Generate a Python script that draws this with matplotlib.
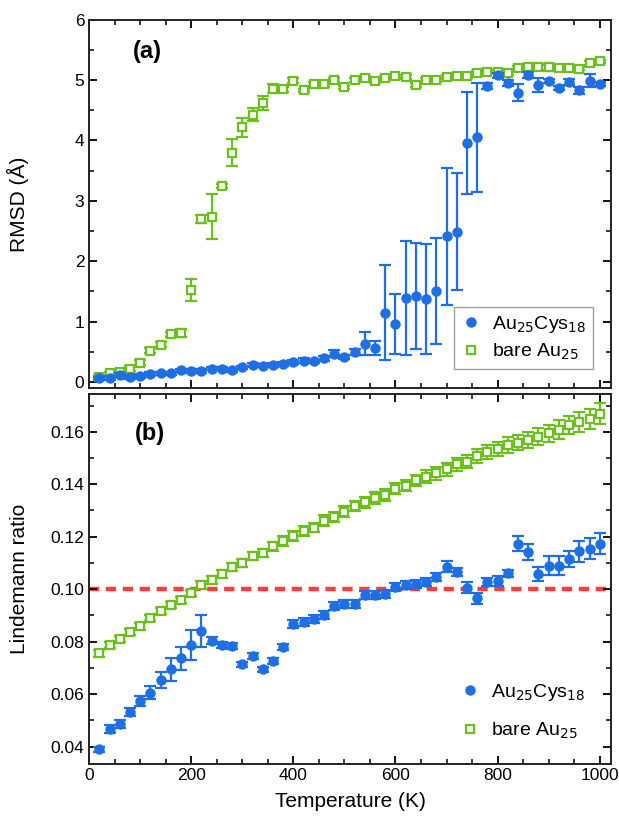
import numpy as np
import matplotlib
matplotlib.use("Agg")
import matplotlib.pyplot as plt
from matplotlib.ticker import MultipleLocator, FormatStrFormatter

plt.rcParams['font.family'] = ['Liberation Sans', 'DejaVu Sans']

#%% data
temperature = list(range(20, 1001, 20))

# RMSD, Au25Cys18
rmsd_cys = [0.06, 0.07, 0.12, 0.08, 0.10, 0.13, 0.14, 0.14, 0.19, 0.18,
            0.18, 0.22, 0.22, 0.19, 0.24, 0.28, 0.27, 0.28, 0.30, 0.33,
            0.35, 0.34, 0.39, 0.47, 0.41, 0.50, 0.63, 0.56, 1.15, 0.96,
            1.39, 1.42, 1.37, 1.51, 2.41, 2.49, 3.96, 4.05, 4.90, 5.08,
            4.95, 4.79, 5.09, 4.92, 4.99, 4.87, 4.97, 4.83, 4.99, 4.94]
rmsd_cys_err = [0.03, 0.03, 0.03, 0.03, 0.03, 0.03, 0.03, 0.03, 0.03, 0.03,
                0.03, 0.03, 0.03, 0.03, 0.03, 0.03, 0.03, 0.03, 0.03, 0.03,
                0.04, 0.03, 0.04, 0.06, 0.03, 0.05, 0.19, 0.11, 0.78, 0.50,
                0.94, 0.88, 0.91, 0.88, 1.14, 0.97, 0.85, 0.90, 0.05, 0.04,
                0.05, 0.14, 0.05, 0.11, 0.03, 0.04, 0.05, 0.06, 0.11, 0.03]

# RMSD, bare Au25
rmsd_bare = [0.08, 0.14, 0.17, 0.22, 0.32, 0.52, 0.62, 0.79, 0.81, 1.52,
             2.70, 2.74, 3.25, 3.80, 4.22, 4.43, 4.62, 4.86, 4.85, 4.99,
             4.83, 4.94, 4.94, 5.00, 4.88, 5.00, 5.04, 4.99, 5.03, 5.06,
             5.05, 4.92, 5.00, 5.00, 5.05, 5.07, 5.06, 5.12, 5.14, 5.14,
             5.12, 5.20, 5.21, 5.21, 5.21, 5.20, 5.20, 5.19, 5.28, 5.31]
rmsd_bare_err = [0.03, 0.03, 0.03, 0.04, 0.04, 0.04, 0.04, 0.04, 0.07, 0.18,
                 0.07, 0.38, 0.03, 0.22, 0.16, 0.10, 0.12, 0.07, 0.04, 0.04,
                 0.03, 0.03, 0.05, 0.03, 0.03, 0.03, 0.03, 0.03, 0.03, 0.03,
                 0.03, 0.03, 0.03, 0.03, 0.03, 0.03, 0.03, 0.03, 0.03, 0.03,
                 0.03, 0.04, 0.04, 0.04, 0.06, 0.04, 0.04, 0.03, 0.03, 0.03]

# Lindemann ratio, Au25Cys18
lind_cys = [0.0390, 0.0467, 0.0486, 0.0533, 0.0573, 0.0605, 0.0653, 0.0694, 0.0736, 0.0787,
            0.0841, 0.0804, 0.0787, 0.0783, 0.0714, 0.0745, 0.0695, 0.0726, 0.0780, 0.0868,
            0.0874, 0.0886, 0.0903, 0.0935, 0.0945, 0.0945, 0.0977, 0.0977, 0.0983, 0.1008,
            0.1015, 0.1020, 0.1026, 0.1045, 0.1086, 0.1064, 0.1006, 0.0965, 0.1026, 0.1032,
            0.1060, 0.1174, 0.1141, 0.1058, 0.1090, 0.1090, 0.1116, 0.1145, 0.1154, 0.1174]
lind_cys_err = [0.0010, 0.0015, 0.0015, 0.0015, 0.0020, 0.0025, 0.0030, 0.0045, 0.0045, 0.0057,
                0.0060, 0.0012, 0.0012, 0.0012, 0.0010, 0.0010, 0.0010, 0.0010, 0.0012, 0.0015,
                0.0015, 0.0015, 0.0015, 0.0015, 0.0015, 0.0015, 0.0015, 0.0015, 0.0015, 0.0015,
                0.0015, 0.0015, 0.0015, 0.0015, 0.0020, 0.0015, 0.0020, 0.0020, 0.0015, 0.0020,
                0.0015, 0.0030, 0.0030, 0.0025, 0.0035, 0.0035, 0.0030, 0.0040, 0.0040, 0.0040]

# Lindemann ratio, bare Au25
lind_bare = [0.0755, 0.0787, 0.0810, 0.0838, 0.0858, 0.0890, 0.0918, 0.0941, 0.0960, 0.0986,
             0.1015, 0.1035, 0.1058, 0.1084, 0.1099, 0.1126, 0.1139, 0.1163, 0.1184, 0.1203,
             0.1221, 0.1235, 0.1261, 0.1275, 0.1296, 0.1318, 0.1331, 0.1347, 0.1360, 0.1383,
             0.1395, 0.1415, 0.1428, 0.1441, 0.1457, 0.1476, 0.1486, 0.1508, 0.1523, 0.1534,
             0.1549, 0.1559, 0.1570, 0.1581, 0.1594, 0.1608, 0.1626, 0.1637, 0.1650, 0.1669]
lind_bare_err = [0.0012, 0.0012, 0.0012, 0.0012, 0.0012, 0.0012, 0.0012, 0.0012, 0.0012, 0.0012,
                 0.0015, 0.0015, 0.0015, 0.0015, 0.0015, 0.0015, 0.0015, 0.0018, 0.0018, 0.0018,
                 0.0018, 0.0018, 0.0020, 0.0020, 0.0020, 0.0020, 0.0020, 0.0022, 0.0022, 0.0022,
                 0.0022, 0.0022, 0.0025, 0.0025, 0.0025, 0.0025, 0.0025, 0.0028, 0.0028, 0.0028,
                 0.0030, 0.0030, 0.0030, 0.0032, 0.0032, 0.0035, 0.0035, 0.0038, 0.0038, 0.0040]

lindemann_limit = 0.10

blue = '#1e6fe3'
green = '#6cc01c'

#%% figure
fig = plt.figure(figsize=(6.19, 8.22), dpi=100)
ax1 = fig.add_axes([0.144, 0.528, 0.843, 0.448])
ax2 = fig.add_axes([0.144, 0.071, 0.843, 0.450])


def draw(ax, y_cys, e_cys, y_bare, e_bare):
    c1 = ax.errorbar(temperature, y_cys, yerr=e_cys, fmt='o', color=blue, ms=6.5,
                     elinewidth=1.6, capsize=4, capthick=1.6, zorder=3)
    c2 = ax.errorbar(temperature, y_bare, yerr=e_bare, fmt='s', color=green, mfc='white',
                     mec=green, mew=1.6, ms=5.5, elinewidth=1.6, capsize=4, capthick=1.6,
                     zorder=2)
    ax.set_xlim(0, 1022)
    ax.xaxis.set_major_locator(MultipleLocator(200))
    ax.xaxis.set_minor_locator(MultipleLocator(50))
    ax.tick_params(which='both', direction='in', top=True, right=True, labelsize=12.5)
    ax.tick_params(which='major', length=6, width=1.3)
    ax.tick_params(which='minor', length=3.5, width=1.1)
    for s in ax.spines.values():
        s.set_linewidth(1.4)
        s.set_color('#222222')
    # marker-only legend handles
    return [c1[0], c2[0]]


labels = ['Au$_{25}$Cys$_{18}$', 'bare Au$_{25}$']

h1 = draw(ax1, rmsd_cys, rmsd_cys_err, rmsd_bare, rmsd_bare_err)
ax1.set_ylim(-0.1, 6)
ax1.yaxis.set_major_locator(MultipleLocator(1))
ax1.yaxis.set_minor_locator(MultipleLocator(0.5))
ax1.tick_params(labelbottom=False)
ax1.set_ylabel('RMSD (Å)', fontsize=15)
ax1.yaxis.set_label_coords(-0.115, 0.5)
ax1.text(0.084, 0.913, '(a)', transform=ax1.transAxes, fontsize=17, fontweight='bold',
         ha='left', va='center')
leg1 = ax1.legend(h1, labels, loc='lower right', fontsize=14, frameon=True, fancybox=False,
                  handlelength=1.0, handletextpad=0.6, borderpad=0.35, labelspacing=0.35,
                  bbox_to_anchor=(0.966, 0.052), borderaxespad=0)
leg1.get_frame().set_edgecolor('#888888')
leg1.get_frame().set_linewidth(1.0)

h2 = draw(ax2, lind_cys, lind_cys_err, lind_bare, lind_bare_err)
ax2.axhline(lindemann_limit, color='#ff3b3b', lw=3.2, ls=(0, (2.3, 1.5)), zorder=1)
ax2.set_ylim(0.0335, 0.1745)
ax2.yaxis.set_major_locator(MultipleLocator(0.02))
ax2.yaxis.set_minor_locator(MultipleLocator(0.01))
ax2.yaxis.set_major_formatter(FormatStrFormatter('%.2f'))
ax2.set_ylabel('Lindemann ratio', fontsize=15)
ax2.yaxis.set_label_coords(-0.115, 0.5)
ax2.set_xlabel('Temperature (K)', fontsize=15, labelpad=6)
ax2.text(0.088, 0.892, '(b)', transform=ax2.transAxes, fontsize=17, fontweight='bold',
         ha='left', va='center')
ax2.legend(h2, labels, loc='lower right', fontsize=14, frameon=False, handlelength=1.0,
           handletextpad=0.6, labelspacing=0.9, bbox_to_anchor=(0.966, 0.04),
           borderaxespad=0)

fig.savefig('out.png', dpi=100)
